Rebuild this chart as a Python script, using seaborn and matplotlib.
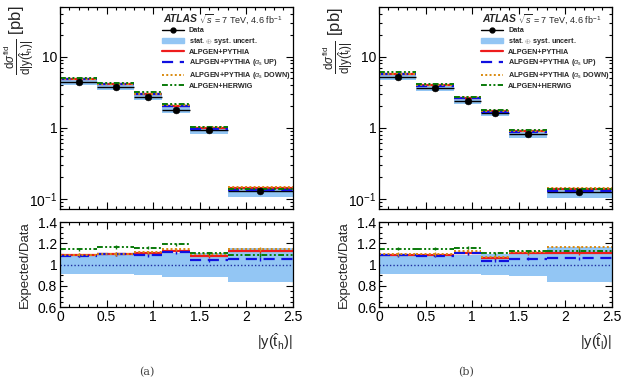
import numpy as np
import pandas as pd
import seaborn as sns
import matplotlib.pyplot as plt
from matplotlib.lines import Line2D
from matplotlib.patches import Patch
from matplotlib.ticker import MultipleLocator, LogLocator, FixedFormatter, FixedLocator, NullFormatter

# Bin edges in |y|
edges = [0.0, 0.4, 0.8, 1.1, 1.4, 1.8, 2.5]

# (a) hadronic top
data_a = [4.4, 3.7, 2.7, 1.8, 0.92, 0.127]
unc_a = [0.088, 0.088, 0.10, 0.113, 0.113, 0.16]
pythia_a = [1.091, 1.100, 1.110, 1.130, 1.080, 1.125]
up_a = [1.085, 1.097, 1.090, 1.116, 1.040, 1.053]
down_a = [1.094, 1.100, 1.116, 1.144, 1.100, 1.147]
herwig_a = [1.144, 1.166, 1.160, 1.190, 1.107, 1.090]

# (b) leptonic top
data_b = [5.2, 3.6, 2.35, 1.61, 0.815, 0.123]
unc_b = [0.089, 0.089, 0.092, 0.10, 0.107, 0.168]
pythia_b = [1.092, 1.092, 1.110, 1.063, 1.108, 1.110]
up_b = [1.086, 1.083, 1.108, 1.038, 1.054, 1.060]
down_b = [1.100, 1.100, 1.133, 1.076, 1.117, 1.165]
herwig_b = [1.150, 1.150, 1.160, 1.108, 1.127, 1.133]

x_ticks = [0, 0.5, 1, 1.5, 2, 2.5]
x_ticklabels = ["0", "0.5", "1", "1.5", "2", "2.5"]

band_color = "#93c6f4"
models = [
    ("ALPGEN+PYTHIA", "#ee1c1c", "-", 1.6),
    (r"ALPGEN+PYTHIA ($\alpha_{\mathrm{s}}$ UP)", "#1010e0", (0, (5, 3)), 1.6),
    (r"ALPGEN+PYTHIA ($\alpha_{\mathrm{s}}$ DOWN)", "#d98a10", (0, (1, 1.2)), 1.4),
    ("ALPGEN+HERWIG", "#0a7a0a", (0, (3, 1.2, 1, 1.2, 1, 1.2)), 1.4),
]

sns.set_theme(style="ticks")
plt.rcParams["font.family"] = ["Liberation Sans", "DejaVu Sans"]
plt.rcParams["mathtext.fontset"] = "custom"
plt.rcParams["mathtext.rm"] = "Liberation Sans"
plt.rcParams["mathtext.it"] = "Liberation Sans:italic"
plt.rcParams["mathtext.bf"] = "Liberation Sans:bold"

fig = plt.figure(figsize=(6.22, 3.82), dpi=100)

lo = np.array(edges[:-1])
hi = np.array(edges[1:])
mid = (lo + hi) / 2


def style_axis(ax):
    ax.tick_params(which="both", direction="in", top=True, right=True,
                   labelsize=10, width=0.8, colors="black", pad=2)
    ax.tick_params(which="major", length=5)
    ax.tick_params(which="minor", length=2.5)
    for s in ax.spines.values():
        s.set_color("black")
        s.set_linewidth(0.9)


def draw_panel(x0, data, unc, ratios, sub, var):
    top = fig.add_axes([x0, 0.453, 0.374, 0.529])
    bot = fig.add_axes([x0, 0.196, 0.374, 0.2225])
    data = np.array(data)
    unc = np.array(unc)

    # top panel
    for i in range(len(data)):
        top.fill_between([lo[i], hi[i]], data[i] * (1 - unc[i]), data[i] * (1 + unc[i]),
                         color=band_color, lw=0)
    top.hlines(data, lo, hi, color="black", lw=1.0)
    for (lab, col, ls, lw), r in zip(models, ratios):
        top.hlines(data * np.array(r), lo, hi, color=col, linestyles=[ls], lw=lw)
    df = pd.DataFrame({"x": mid, "y": data})
    sns.scatterplot(data=df, x="x", y="y", ax=top, color="black", s=24,
                    edgecolor="black", zorder=5, legend=False)
    top.set_yscale("log")
    top.set_ylim(0.072, 50)
    top.set_xlim(0, 2.5)
    top.xaxis.set_major_locator(FixedLocator(x_ticks))
    top.xaxis.set_minor_locator(MultipleLocator(0.1))
    top.xaxis.set_major_formatter(NullFormatter())
    top.yaxis.set_major_locator(FixedLocator([0.1, 1, 10]))
    top.yaxis.set_major_formatter(FixedFormatter([r"$10^{-1}$", "1", "10"]))
    top.yaxis.set_minor_locator(LogLocator(subs=np.arange(2, 10)))
    top.yaxis.set_minor_formatter(NullFormatter())
    top.set_xlabel("")
    top.set_ylabel(r"$\frac{\mathrm{d}\sigma^{\mathrm{fid}}}{\mathrm{d}|\mathrm{y}(\hat{\mathrm{t}}_{\mathrm{" + var + r"}})|}$ [pb]",
                   fontsize=12)
    top.yaxis.set_label_coords(-0.1, 0.835)
    style_axis(top)

    top.text(0.444, 0.94, "ATLAS", transform=top.transAxes, fontsize=7.5,
             fontweight="bold", fontstyle="italic", va="center")
    top.text(0.598, 0.94, r"$\sqrt{s}$ = 7 TeV, 4.6 fb$^{-1}$", transform=top.transAxes,
             fontsize=6.5, va="center")
    handles = [Line2D([], [], color="black", marker="o", markersize=3.5, lw=1),
               Patch(color=band_color)]
    labels = ["Data", r"stat. $\oplus$ syst. uncert."]
    for lab, col, ls, lw in models:
        handles.append(Line2D([], [], color=col, ls=ls, lw=lw))
        labels.append(lab)
    leg = top.legend(handles, labels, loc="upper left", bbox_to_anchor=(0.438, 0.9),
                     frameon=False, fontsize=5.2, borderpad=0, borderaxespad=0,
                     labelspacing=0.24, handlelength=3.1, handletextpad=0.65,
                     handleheight=0.7)
    for t in leg.get_texts():
        t.set_fontweight("bold")

    # ratio panel
    for i in range(len(unc)):
        bot.fill_between([lo[i], hi[i]], 1 - unc[i], 1 + unc[i], color=band_color, lw=0)
    bot.axhline(1.0, color="#2030a0", ls=(0, (1, 1.5)), lw=1.0)
    for (lab, col, ls, lw), r in zip(models, ratios):
        r = np.array(r)
        bot.hlines(r, lo, hi, color=col, linestyles=[ls], lw=lw)
        bot.errorbar(mid, r, yerr=0.015, fmt="none", ecolor=col, elinewidth=1.0)
    bot.set_xlim(0, 2.5)
    bot.set_ylim(0.6, 1.4)
    bot.xaxis.set_major_locator(FixedLocator(x_ticks))
    bot.xaxis.set_major_formatter(FixedFormatter(x_ticklabels))
    bot.xaxis.set_minor_locator(MultipleLocator(0.1))
    bot.yaxis.set_major_locator(FixedLocator([0.6, 0.8, 1.0, 1.2, 1.4]))
    bot.yaxis.set_major_formatter(FixedFormatter(["0.6", "0.8", "1", "1.2", "1.4"]))
    bot.yaxis.set_minor_locator(MultipleLocator(0.05))
    bot.set_ylabel("Expected/Data", fontsize=9.5)
    bot.yaxis.set_label_coords(-0.125, 0.5)
    bot.set_xlabel(r"$|\mathrm{y}(\hat{\mathrm{t}}_{\mathrm{" + var + r"}})|$", fontsize=10.5,
                   loc="right")
    bot.xaxis.set_label_coords(1.0, -0.41)
    bot.xaxis.label.set_va("center")
    style_axis(bot)

    fig.text(x0 + 0.14, 0.026, sub, fontsize=8, family="DejaVu Serif",
             ha="center", va="center", color="#444444")


draw_panel(0.0965, data_a, unc_a, [pythia_a, up_a, down_a, herwig_a], "(a)", "h")
draw_panel(0.6095, data_b, unc_b, [pythia_b, up_b, down_b, herwig_b], "(b)", "l")

fig.savefig("out.png", dpi=100)
